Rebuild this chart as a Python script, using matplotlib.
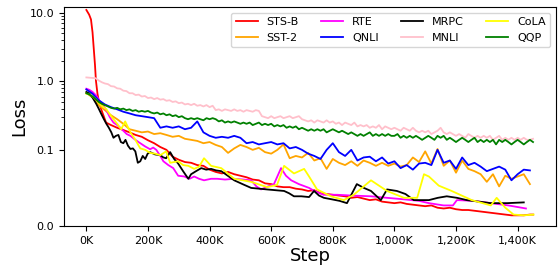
import numpy as np
import matplotlib
matplotlib.use("Agg")
import matplotlib.pyplot as plt
from matplotlib.ticker import (FormatStrFormatter, FuncFormatter, MultipleLocator,
                               SymmetricalLogLocator, NullFormatter)

# steps are in thousands (K)
dense_steps = np.arange(0, 1460, 10)
mid_steps = np.arange(0, 1460, 20)

mnli_loss = [
    1.14, 1.13, 1.12, 1.11, 1.03, 0.97, 0.93, 0.91, 0.85, 0.84,
    0.79, 0.78, 0.73, 0.72, 0.67, 0.67, 0.63, 0.64, 0.60, 0.61,
    0.57, 0.58, 0.55, 0.57, 0.54, 0.55, 0.52, 0.53, 0.50, 0.51,
    0.48, 0.49, 0.46, 0.47, 0.45, 0.47, 0.44, 0.45, 0.43, 0.45,
    0.42, 0.44, 0.38, 0.39, 0.37, 0.39, 0.38, 0.37, 0.39, 0.37,
    0.38, 0.36, 0.38, 0.37, 0.36, 0.38, 0.37, 0.31, 0.30, 0.29,
    0.31, 0.29, 0.30, 0.31, 0.29, 0.30, 0.31, 0.29, 0.30, 0.31,
    0.28, 0.27, 0.26, 0.27, 0.25, 0.27, 0.26, 0.25, 0.27, 0.25,
    0.26, 0.24, 0.25, 0.23, 0.25, 0.24, 0.23, 0.25, 0.22, 0.23,
    0.22, 0.23, 0.21, 0.22, 0.21, 0.23, 0.20, 0.22, 0.21, 0.20,
    0.21, 0.20, 0.19, 0.21, 0.20, 0.19, 0.21, 0.19, 0.18, 0.19,
    0.18, 0.19, 0.17, 0.18, 0.19, 0.21, 0.18, 0.17, 0.18, 0.17,
    0.16, 0.17, 0.16, 0.15, 0.17, 0.16, 0.15, 0.16, 0.15, 0.16,
    0.15, 0.16, 0.14, 0.15, 0.16, 0.14, 0.15, 0.14, 0.15, 0.14,
    0.15, 0.14, 0.15, 0.14, 0.14, 0.145,
]

qqp_loss = [
    0.67, 0.64, 0.60, 0.55, 0.50, 0.47, 0.45, 0.43, 0.41, 0.40,
    0.41, 0.39, 0.40, 0.38, 0.39, 0.37, 0.38, 0.36, 0.37, 0.36,
    0.37, 0.35, 0.34, 0.35, 0.33, 0.34, 0.32, 0.33, 0.31, 0.32,
    0.30, 0.31, 0.29, 0.28, 0.29, 0.28, 0.29, 0.28, 0.27, 0.29,
    0.28, 0.29, 0.28, 0.26, 0.27, 0.25, 0.26, 0.25, 0.26, 0.25,
    0.24, 0.25, 0.24, 0.25, 0.23, 0.24, 0.25, 0.23, 0.24, 0.23,
    0.24, 0.22, 0.23, 0.22, 0.23, 0.21, 0.22, 0.21, 0.22, 0.20,
    0.21, 0.20, 0.19, 0.20, 0.19, 0.20, 0.19, 0.20, 0.18, 0.19,
    0.20, 0.19, 0.18, 0.19, 0.18, 0.17, 0.18, 0.17, 0.16, 0.17,
    0.16, 0.17, 0.18, 0.16, 0.17, 0.16, 0.17, 0.16, 0.17, 0.16,
    0.16, 0.17, 0.15, 0.16, 0.15, 0.16, 0.15, 0.16, 0.15, 0.14,
    0.15, 0.16, 0.15, 0.14, 0.16, 0.15, 0.16, 0.14, 0.15, 0.14,
    0.13, 0.14, 0.15, 0.14, 0.13, 0.14, 0.15, 0.13, 0.14, 0.13,
    0.14, 0.13, 0.14, 0.12, 0.14, 0.13, 0.14, 0.13, 0.12, 0.13,
    0.14, 0.13, 0.12, 0.13, 0.14, 0.13,
]

qnli_loss = [
    0.76, 0.66, 0.53, 0.46, 0.42, 0.39, 0.36, 0.34, 0.32, 0.31,
    0.30, 0.29, 0.21, 0.22, 0.21, 0.22, 0.20, 0.21, 0.26, 0.18,
    0.16, 0.15, 0.155, 0.15, 0.16, 0.15, 0.125, 0.13, 0.12, 0.125,
    0.13, 0.12, 0.125, 0.105, 0.11, 0.10, 0.095, 0.092, 0.088, 0.10,
    0.125, 0.097, 0.092, 0.10, 0.086, 0.09, 0.091, 0.085, 0.09, 0.082,
    0.085, 0.076, 0.08, 0.074, 0.082, 0.083, 0.08, 0.10, 0.083, 0.086,
    0.075, 0.09, 0.08, 0.083, 0.078, 0.072, 0.075, 0.078, 0.074, 0.06,
    0.068, 0.074, 0.073,
]

sst2_loss = [
    0.68, 0.58, 0.45, 0.38, 0.32, 0.28, 0.24, 0.20, 0.19, 0.18,
    0.185, 0.17, 0.175, 0.165, 0.155, 0.16, 0.145, 0.14, 0.135, 0.125,
    0.13, 0.118, 0.11, 0.096, 0.105, 0.118, 0.11, 0.10, 0.107, 0.097,
    0.095, 0.10, 0.12, 0.089, 0.092, 0.09, 0.096, 0.086, 0.089, 0.075,
    0.088, 0.083, 0.08, 0.085, 0.079, 0.086, 0.083, 0.079, 0.083, 0.079,
    0.082, 0.078, 0.08, 0.09, 0.084, 0.098, 0.082, 0.103, 0.079, 0.086,
    0.07, 0.086, 0.075, 0.072, 0.068, 0.058, 0.068, 0.052, 0.066, 0.062,
    0.065, 0.068, 0.055,
]

stsb_steps = [0, 9, 15, 20, 24, 28, 31, 36, 42, 53, 64] + list(range(80, 1460, 20)) + [1450]
stsb_loss = [
    11.0, 9.4, 8.0, 5.2, 3.0, 1.73, 1.03, 0.66, 0.47, 0.34, 0.25,
    0.23, 0.21, 0.195, 0.18, 0.165, 0.155, 0.138, 0.125, 0.11, 0.10,
    0.091, 0.087, 0.084, 0.083, 0.080, 0.079, 0.074, 0.071, 0.069, 0.071,
    0.068, 0.066, 0.064, 0.061, 0.060, 0.056, 0.055, 0.052, 0.051, 0.051,
    0.049, 0.048, 0.046, 0.047, 0.043, 0.042, 0.041, 0.040, 0.039, 0.037,
    0.038, 0.036, 0.034, 0.035, 0.032, 0.031, 0.030, 0.031, 0.029, 0.028,
    0.027, 0.026, 0.027, 0.024, 0.023, 0.024, 0.022, 0.021, 0.021, 0.020,
    0.019, 0.018, 0.017, 0.016, 0.015, 0.014, 0.014, 0.014, 0.015,
    0.015,
]

mrpc_steps = [
    0, 10, 20, 32, 40, 49, 57, 65, 73, 81, 88, 96, 104, 112, 120, 127, 135,
    143, 151, 159, 167, 175, 183, 191, 199, 207, 223, 240, 250, 259, 272,
    285, 298, 314, 331, 340, 356, 373, 389, 405, 421, 438, 459, 480, 507,
    535, 561, 587, 614, 642, 658, 674, 698, 723, 739, 755, 771, 797, 822,
    846, 878, 901, 924, 940, 956, 976, 992, 1008, 1036, 1063, 1088, 1112,
    1141, 1170, 1203, 1235, 1274, 1313, 1366, 1420,
]
mrpc_loss = [
    0.70, 0.66, 0.58, 0.47, 0.40, 0.33, 0.28, 0.24, 0.21, 0.18, 0.15, 0.16,
    0.165, 0.13, 0.125, 0.14, 0.115, 0.103, 0.105, 0.098, 0.083, 0.085,
    0.092, 0.088, 0.095, 0.097, 0.094, 0.093, 0.09, 0.089, 0.097, 0.088,
    0.082, 0.072, 0.062, 0.068, 0.072, 0.076, 0.074, 0.075, 0.073, 0.072,
    0.066, 0.06, 0.055, 0.05, 0.049, 0.048, 0.047, 0.046, 0.043, 0.039,
    0.039, 0.038, 0.046, 0.04, 0.037, 0.035, 0.033, 0.03, 0.055, 0.05,
    0.046, 0.04, 0.034, 0.048, 0.047, 0.046, 0.042, 0.034, 0.034, 0.034,
    0.037, 0.039, 0.037, 0.034, 0.032, 0.03, 0.03, 0.031,
]

rte_steps = [
    0, 10, 20, 32, 45, 55, 65, 76, 88, 100, 110, 120, 131, 143, 159, 175,
    191, 207, 217, 227, 240, 250, 266, 282, 298, 318, 335, 350, 366, 382,
    405, 425, 450, 480, 510, 535, 552, 567, 590, 609, 632, 648, 665, 690,
    723, 740, 770, 814, 860, 924, 976, 1031, 1080, 1112, 1160, 1190, 1203,
    1258, 1313, 1370, 1427,
]
rte_loss = [
    0.78, 0.75, 0.70, 0.62, 0.50, 0.44, 0.38, 0.30, 0.25, 0.23, 0.21, 0.19,
    0.17, 0.16, 0.14, 0.125, 0.112, 0.102, 0.108, 0.10, 0.092, 0.085, 0.08,
    0.076, 0.066, 0.065, 0.062, 0.065, 0.062, 0.06, 0.062, 0.062, 0.061,
    0.062, 0.061, 0.06, 0.052, 0.048, 0.052, 0.055, 0.076, 0.066, 0.06,
    0.055, 0.05, 0.046, 0.041, 0.041, 0.04, 0.039, 0.037, 0.035, 0.033,
    0.03, 0.027, 0.027, 0.034, 0.033, 0.03, 0.027, 0.023,
]

cola_steps = [
    0, 10, 20, 32, 45, 65, 76, 88, 100, 113, 126, 143, 159, 175, 191, 207,
    223, 240, 259, 272, 298, 314, 331, 350, 366, 382, 405, 438, 480, 535,
    587, 619, 642, 674, 707, 723, 749, 794, 836, 868, 924, 976, 1031, 1074,
    1096, 1112, 1144, 1186, 1251, 1313, 1332, 1360, 1387, 1420, 1452,
]
cola_loss = [
    0.66, 0.64, 0.60, 0.54, 0.46, 0.39, 0.33, 0.28, 0.24, 0.20, 0.26, 0.18,
    0.14, 0.105, 0.10, 0.096, 0.095, 0.093, 0.098, 0.083, 0.085, 0.08,
    0.079, 0.075, 0.078, 0.089, 0.079, 0.076, 0.062, 0.058, 0.051, 0.054,
    0.079, 0.069, 0.075, 0.065, 0.048, 0.039, 0.034, 0.041, 0.06, 0.046,
    0.037, 0.037, 0.068, 0.065, 0.053, 0.046, 0.034, 0.027, 0.037, 0.024,
    0.015, 0.014, 0.015,
]

# legend order follows column-wise fill of the 4-column legend
series = [
    ("STS-B", "red", stsb_steps, stsb_loss),
    ("SST-2", "orange", mid_steps, sst2_loss),
    ("RTE", "magenta", rte_steps, rte_loss),
    ("QNLI", "blue", mid_steps, qnli_loss),
    ("MRPC", "black", mrpc_steps, mrpc_loss),
    ("MNLI", "pink", dense_steps, mnli_loss),
    ("CoLA", "yellow", cola_steps, cola_loss),
    ("QQP", "green", dense_steps, qqp_loss),
]

fig = plt.figure(figsize=(5.58, 2.66), dpi=100)
ax = fig.add_axes([0.1147, 0.1504, 0.8817, 0.8233])

for name, color, x, y in series:
    ax.plot(x, y, color=color, lw=1.3, label=name)

ax.set_yscale("symlog", linthresh=0.1)
ax.set_ylim(0, 12.15)
ax.yaxis.set_major_formatter(FormatStrFormatter("%.1f"))
ax.yaxis.set_minor_locator(SymmetricalLogLocator(base=10, linthresh=0.1,
                                                 subs=np.arange(2, 10)))
ax.yaxis.set_minor_formatter(NullFormatter())
ax.xaxis.set_major_locator(MultipleLocator(200))
ax.xaxis.set_major_formatter(FuncFormatter(lambda v, p: f"{v:,.0f}K"))
ax.tick_params(labelsize=8)

ax.set_xlabel("Step", fontsize=13, labelpad=1)
ax.set_ylabel("Loss", fontsize=13, labelpad=1)
ax.legend(ncol=4, fontsize=8, loc="upper right")

fig.savefig("out.png", dpi=100)
